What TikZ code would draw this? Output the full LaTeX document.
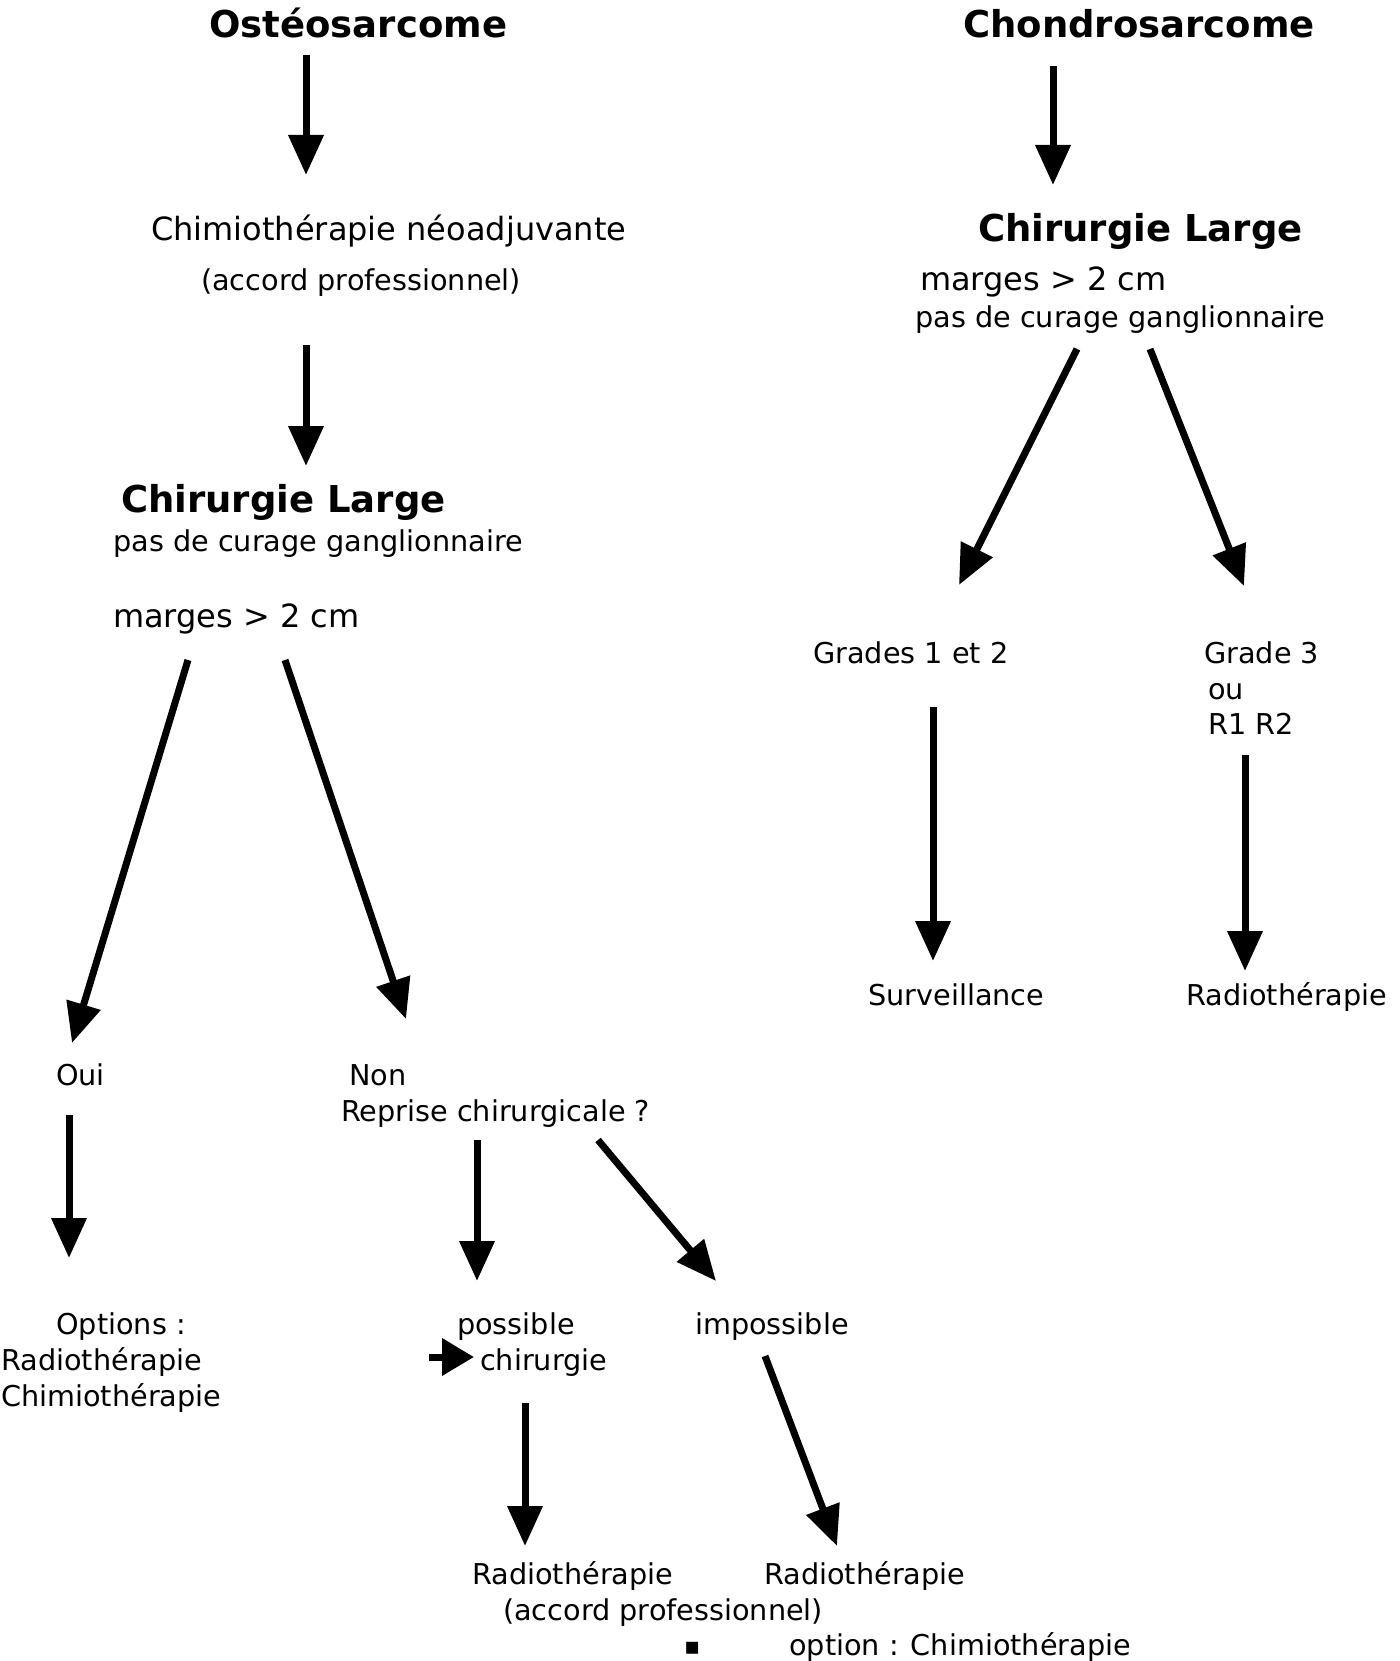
\documentclass[tikz,border=0pt]{standalone}
\usepackage{fontspec}
\setmainfont{DejaVu Sans}
\usetikzlibrary{arrows.meta}

\begin{document}
\begin{tikzpicture}[x=1pt,y=-1pt,line cap=butt,line join=miter]
    % styles
    \tikzstyle{txt}=[font=\fontsize{28.7}{36}\selectfont,inner sep=0pt,anchor=base west]
    \tikzstyle{big}=[font=\fontsize{32}{38}\selectfont,inner sep=0pt,anchor=base west]
    \tikzstyle{ttl}=[font=\fontsize{37}{44}\selectfont\bfseries,inner sep=0pt,anchor=base west]
    \tikzstyle{fleche}=[line width=7pt,-{Triangle[width=34pt,length=40pt]}]
    \tikzstyle{petite}=[line width=7pt,-{Triangle[width=36pt,length=32pt]}]

    \useasboundingbox (0,0) rectangle (1399,1661);

    % ----------------------------------------------------
    % Osteosarcome
    % ----------------------------------------------------
    \node[ttl] (osteo) at (209,38) {Ostéosarcome};
    \node[big] (neo) at (151,241) {Chimiothérapie néoadjuvante};
    \node[txt] (neoaccord) at (201,291) {(accord professionnel)};
    \node[ttl] (chirG) at (121,512) {Chirurgie Large};
    \node[txt] (curageG) at (113,551) {pas de curage ganglionnaire};
    \node[big] (margesG) at (113,627) {marges > 2 cm};

    \node[txt] (oui) at (56,1085) {Oui};
    \node[txt] (non) at (349,1085) {Non};
    \node[txt] (reprise) at (341,1121) {Reprise chirurgicale ?};

    \node[txt] (options) at (56,1334) {Options :};
    \node[txt] (optradio) at (1,1370) {Radiothérapie};
    \node[txt] (optchimio) at (1,1406) {Chimiothérapie};

    \node[txt] (possible) at (457,1334) {possible};
    \node[txt] (chirurgie) at (480,1370) {chirurgie};
    \node[txt] (impossible) at (695,1334) {impossible};

    \node[txt] (radioP) at (472,1584) {Radiothérapie};
    \node[txt] (radioPaccord) at (503,1620) {(accord professionnel)};
    \node[txt] (radioI) at (764,1584) {Radiothérapie};
    \node[txt,font=\fontsize{24}{30}\selectfont] (puce) at (684,1654) {▪};
    \node[txt] (optionI) at (789,1655) {option : Chimiothérapie};

    % arrow ends
    \coordinate (osteo-s) at (306,55);   \coordinate (neo-n) at (306,175);
    \coordinate (neo-s) at (306,345);    \coordinate (chirG-n) at (306,466);
    \coordinate (margesG-sw) at (188,660); \coordinate (oui-n) at (72,1043);
    \coordinate (margesG-se) at (285,660); \coordinate (non-n) at (406,1019);
    \coordinate (oui-s) at (69,1115);    \coordinate (options-n) at (69,1258);
    \coordinate (reprise-sw) at (477,1140); \coordinate (possible-n) at (477,1281);
    \coordinate (reprise-se) at (598,1140); \coordinate (impossible-n) at (716,1281);
    \coordinate (chirurgie-w) at (429,1357); \coordinate (chirurgie-pointe) at (474,1357);
    \coordinate (chirurgie-s) at (525,1403); \coordinate (radioP-n) at (525,1546);
    \coordinate (impossible-s) at (765,1356); \coordinate (radioI-n) at (837,1546);

    \draw[fleche] (osteo-s) -- (neo-n);
    \draw[fleche] (neo-s) -- (chirG-n);
    \draw[fleche] (margesG-sw) -- (oui-n);
    \draw[fleche] (margesG-se) -- (non-n);
    \draw[fleche] (oui-s) -- (options-n);
    \draw[fleche] (reprise-sw) -- (possible-n);
    \draw[fleche] (reprise-se) -- (impossible-n);
    \draw[petite] (chirurgie-w) -- (chirurgie-pointe);
    \draw[fleche] (chirurgie-s) -- (radioP-n);
    \draw[fleche] (impossible-s) -- (radioI-n);

    % ----------------------------------------------------
    % Chondrosarcome
    % ----------------------------------------------------
    \node[ttl] (chondro) at (963,38) {Chondrosarcome};
    \node[ttl] (chirD) at (978,242) {Chirurgie Large};
    \node[big] (margesD) at (920,291) {marges > 2 cm};
    \node[txt] (curageD) at (915,327) {pas de curage ganglionnaire};

    \node[txt] (grades12) at (813,663) {Grades 1 et 2};
    \node[txt] (grade3) at (1204,663) {Grade 3};
    \node[txt] (ou) at (1208,699) {ou};
    \node[txt] (r1r2) at (1208,734) {R1 R2};

    \node[txt] (surv) at (868,1005) {Surveillance};
    \node[txt] (radioD) at (1186,1005) {Radiothérapie};

    % arrow ends
    \coordinate (chondro-s) at (1053,66);  \coordinate (chirD-n) at (1053,185);
    \coordinate (curageD-sw) at (1077,349); \coordinate (grades12-n) at (959,585);
    \coordinate (curageD-se) at (1150,349); \coordinate (grade3-n) at (1244,586);
    \coordinate (grades12-s) at (933,707);  \coordinate (surv-n) at (933,961);
    \coordinate (r1r2-s) at (1245,755);     \coordinate (radioD-n) at (1245,971);

    \draw[fleche] (chondro-s) -- (chirD-n);
    \draw[fleche] (curageD-sw) -- (grades12-n);
    \draw[fleche] (curageD-se) -- (grade3-n);
    \draw[fleche] (grades12-s) -- (surv-n);
    \draw[fleche] (r1r2-s) -- (radioD-n);
\end{tikzpicture}
\end{document}
